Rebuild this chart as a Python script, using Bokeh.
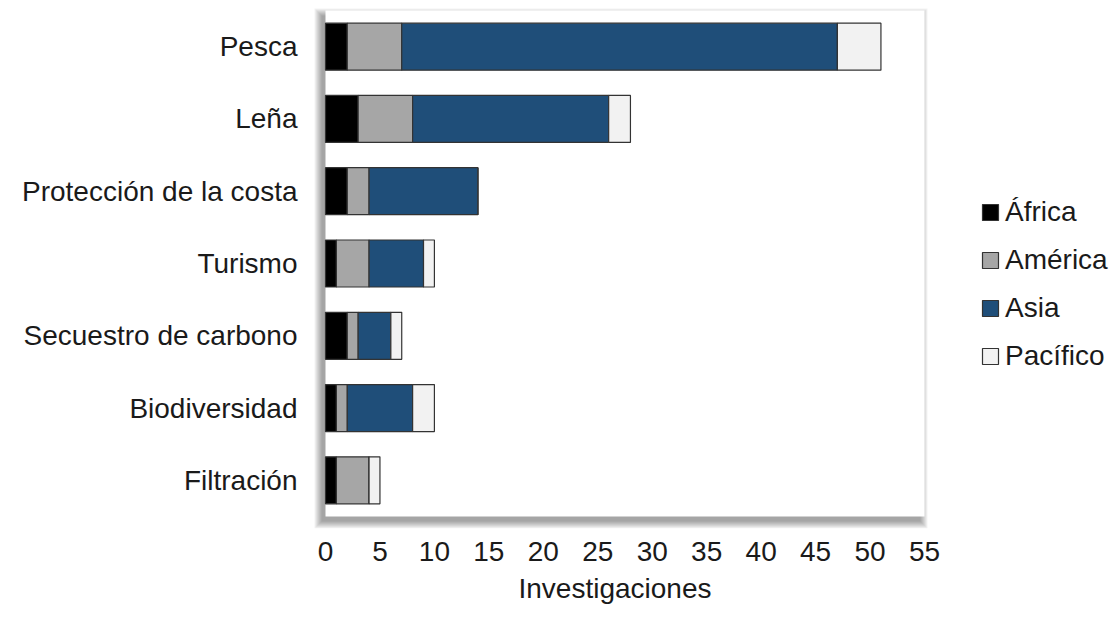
from bokeh.plotting import figure
from bokeh.models import (ColumnDataSource, Range1d, FixedTicker, Legend, LegendItem, Title)
from bokeh.embed import file_html
from bokeh.resources import INLINE

# ---- data ----
categories = ["Pesca", "Leña", "Protección de la costa", "Turismo",
              "Secuestro de carbono", "Biodiversidad", "Filtración"]
regions = ["África", "América", "Asia", "Pacífico"]
africa = [2, 3, 2, 1, 2, 1, 1]
america = [5, 5, 2, 3, 1, 1, 3]
asia = [40, 18, 10, 5, 3, 6, 0]
pacifico = [4, 2, 0, 1, 1, 2, 1]
x_ticks = [0, 5, 10, 15, 20, 25, 30, 35, 40, 45, 50, 55]
x_title = "Investigaciones"
colors = ["#000000", "#a6a6a6", "#1f4e79", "#f2f2f2"]

FONT = "Liberation Sans"
FS = "28px"
TXT = "#1a1a1a"

# ---- layout geometry (pixels) ----
W, H = 1113, 617
BOX_L, BOX_R, BOX_T, BOX_B = 325, 924, 10, 516     # white plot box
FL, FR, FT, FB = 313, W, 4, 528                    # frame (box + shadow + legend room)
XMAX = 55
NCAT = len(categories)
pxu = (BOX_R - BOX_L) / XMAX            # px per x unit
pyu = (BOX_B - BOX_T) / NCAT            # px per category
Y0 = -0.5                               # data y of box bottom

def dxv(px):   # page px -> x data
    return (px - BOX_L) / pxu

def dyv(py):   # page py -> y data
    return Y0 + (BOX_B - py) / pyu

ypos = [NCAT - 1 - i for i in range(NCAT)]
source = ColumnDataSource(dict(y=ypos, **{
    regions[0]: africa, regions[1]: america, regions[2]: asia, regions[3]: pacifico}))

p = figure(width=W, height=H, output_backend="svg", toolbar_location=None,
           x_range=Range1d(dxv(FL), dxv(FR)), y_range=Range1d(dyv(FB), dyv(FT)),
           min_border_left=FL, min_border_right=W - FR, min_border_top=FT,
           min_border_bottom=H - FB)

p.background_fill_color = "white"
p.border_fill_color = "white"
p.outline_line_color = None
p.xgrid.grid_line_color = None
p.ygrid.grid_line_color = None

# ---- drop shadow + white box ----
sdx, sdy = -4, 5
layers = list(range(8))
shadow = ColumnDataSource(dict(
    left=[dxv(BOX_L + sdx - e) for e in layers],
    right=[dxv(BOX_R + sdx + e) for e in layers],
    top=[dyv(BOX_T + sdy - e) for e in layers],
    bottom=[dyv(BOX_B + sdy + e) for e in layers]))
p.quad(left="left", right="right", top="top", bottom="bottom", source=shadow,
       fill_color="black", fill_alpha=0.05, line_color=None)
p.quad(left=[dxv(BOX_L)], right=[dxv(BOX_R)], top=[dyv(BOX_T)], bottom=[dyv(BOX_B)],
       fill_color="white", line_color=None)

# ---- stacked bars ----
rs = p.hbar_stack(regions, y="y", height=0.65, color=colors, source=source,
                  line_color="#333333", line_width=1.2)

# ---- axes ----
p.xaxis.ticker = FixedTicker(ticks=x_ticks)
p.yaxis.ticker = FixedTicker(ticks=ypos)
p.yaxis.major_label_overrides = {k: c for k, c in zip(ypos, categories)}
for ax in (p.xaxis, p.yaxis):
    ax.axis_line_color = None
    ax.major_tick_line_color = None
    ax.minor_tick_line_color = None
    ax.major_label_text_font = FONT
    ax.major_label_text_font_size = FS
    ax.major_label_text_color = TXT
p.xaxis.major_label_standoff = 7
p.yaxis.major_label_standoff = 10

# x-axis title, centred under the white box (not under the wider frame)
TITLE_W = 197
xt = Title(text=x_title, align="left", offset=(BOX_L + BOX_R) / 2 - TITLE_W / 2 - FL - 8,
           text_font=FONT, text_font_size=FS, text_font_style="normal",
           text_color=TXT, standoff=14)
p.add_layout(xt, "below")

# ---- legend ----
legend = Legend(items=[LegendItem(label=lab, renderers=[r]) for lab, r in zip(regions, rs)],
                location=(980 - FL, 156), orientation="vertical",
                glyph_width=20, glyph_height=20, label_standoff=5, spacing=16,
                padding=0, margin=0, border_line_color=None, background_fill_alpha=0,
                label_text_font=FONT, label_text_font_size=FS, label_text_color=TXT)
p.add_layout(legend, "center")

open("out.html", "w").write(file_html(p, INLINE))
